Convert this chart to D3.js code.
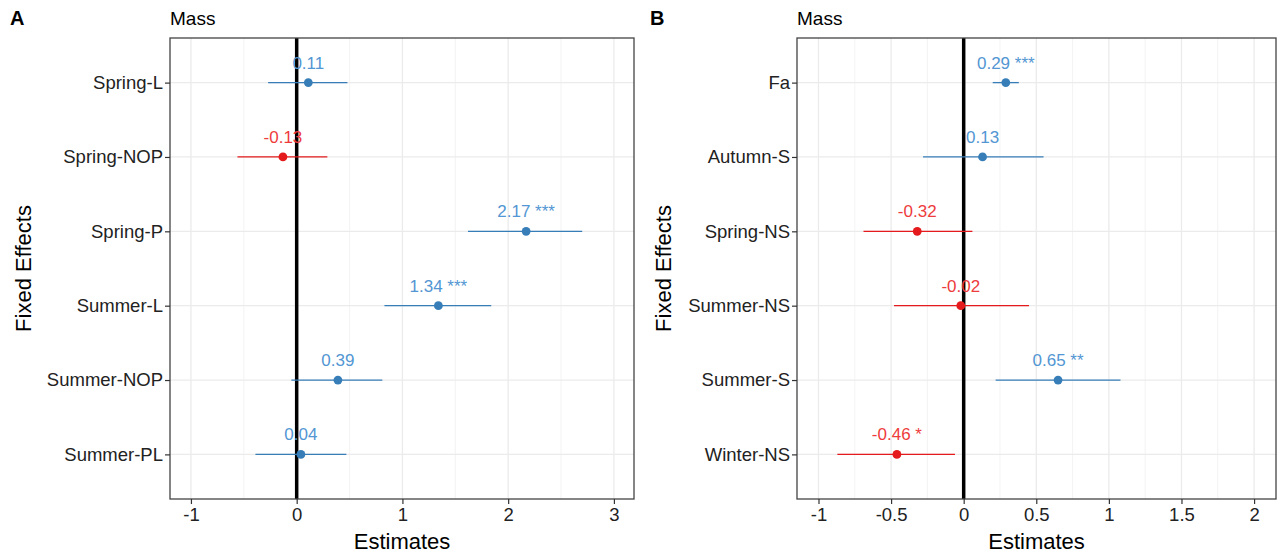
<!DOCTYPE html>
<html>
<head>
<meta charset="utf-8">
<script src="https://cdn.jsdelivr.net/npm/d3@7"></script>
<style>
  body { margin: 0; background: #fff; }
  svg { display: block; font-family: "Liberation Sans", Arial, sans-serif; }
</style>
</head>
<body>
<svg id="chart" width="1281" height="556"></svg>
<script>
// panel A
var termsA = ["Spring-L", "Spring-NOP", "Spring-P", "Summer-L", "Summer-NOP", "Summer-PL"];
var estA = [0.11, -0.13, 2.17, 1.34, 0.39, 0.04];
var lowA = [-0.27, -0.56, 1.62, 0.83, -0.05, -0.39];
var highA = [0.48, 0.29, 2.70, 1.84, 0.81, 0.47];
var starsA = ["", "", "***", "***", "", ""];
var ticksA = [-1, 0, 1, 2, 3];
var minorA = [-0.5, 0.5, 1.5, 2.5];

// panel B
var termsB = ["Fa", "Autumn-S", "Spring-NS", "Summer-NS", "Summer-S", "Winter-NS"];
var estB = [0.29, 0.13, -0.32, -0.02, 0.65, -0.46];
var lowB = [0.20, -0.28, -0.69, -0.48, 0.22, -0.87];
var highB = [0.38, 0.55, 0.06, 0.45, 1.08, -0.06];
var starsB = ["***", "", "", "", "**", "*"];
var ticksB = [-1, -0.5, 0, 0.5, 1, 1.5, 2];
var minorB = [-0.75, -0.25, 0.25, 0.75, 1.25, 1.75];

var svg = d3.select("#chart");

function drawPanel(opt){
	var g = svg.append("g").attr("transform", "translate(" + opt.offset + ",0)");
	var left = opt.left, right = opt.right, top = 38, bottom = 499;

	var x = d3.scaleLinear().domain(opt.domain).range([left, right]);
	var y = d3.scalePoint().domain(opt.terms).range([top, bottom]).padding(0.6);

	// grid
	g.selectAll(".minor").data(opt.minor).enter().append("line")
		.attr("x1", d => x(d)).attr("x2", d => x(d))
		.attr("y1", top).attr("y2", bottom)
		.style("stroke", "#f0f0f0").style("stroke-width", 0.8);
	g.selectAll(".major").data(opt.ticks).enter().append("line")
		.attr("x1", d => x(d)).attr("x2", d => x(d))
		.attr("y1", top).attr("y2", bottom)
		.style("stroke", "#ebebeb").style("stroke-width", 1.3);
	g.selectAll(".hgrid").data(opt.terms).enter().append("line")
		.attr("x1", left).attr("x2", right)
		.attr("y1", d => y(d)).attr("y2", d => y(d))
		.style("stroke", "#ebebeb").style("stroke-width", 1.3);

	// zero line
	g.append("line")
		.attr("x1", x(0)).attr("x2", x(0))
		.attr("y1", top).attr("y2", bottom)
		.style("stroke", "#000").style("stroke-width", 3.5);

	var rows = opt.terms.map(function(t, i){
		return {term: t, est: opt.est[i], low: opt.low[i], high: opt.high[i], stars: opt.stars[i]};
	});
	var lineColor = d => d.est < 0 ? "#e41a1c" : "#377eb8";
	var textColor = d => d.est < 0 ? "#ee3b3c" : "#5296d3";

	g.selectAll(".ci").data(rows).enter().append("line")
		.attr("x1", d => x(d.low)).attr("x2", d => x(d.high))
		.attr("y1", d => y(d.term)).attr("y2", d => y(d.term))
		.style("stroke", lineColor).style("stroke-width", 1.3);
	g.selectAll(".pt").data(rows).enter().append("circle")
		.attr("cx", d => x(d.est)).attr("cy", d => y(d.term))
		.attr("r", 4.4)
		.attr("fill", lineColor);
	g.selectAll(".lbl").data(rows).enter().append("text")
		.attr("x", d => x(d.est)).attr("y", d => y(d.term) - 14)
		.attr("text-anchor", "middle")
		.style("font-size", "17px")
		.attr("fill", textColor)
		.text(d => d.est.toFixed(2) + (d.stars ? " " + d.stars : ""));

	// border
	g.append("rect")
		.attr("x", left).attr("y", top)
		.attr("width", right - left).attr("height", bottom - top)
		.attr("fill", "none").style("stroke", "#444").style("stroke-width", 1.3);

	// axes
	var xAxis = g.append("g").attr("transform", "translate(0," + bottom + ")")
		.call(d3.axisBottom(x).tickValues(opt.ticks).tickSize(5).tickPadding(4).tickFormat(d => String(d)));
	var yAxis = g.append("g").attr("transform", "translate(" + left + ",0)")
		.call(d3.axisLeft(y).tickSize(5).tickPadding(2));
	[xAxis, yAxis].forEach(function(a){
		a.select(".domain").remove();
		a.selectAll(".tick line").style("stroke", "#333").style("stroke-width", 1.2);
		a.selectAll("text").style("font-size", "18.5px").attr("fill", "#222")
			.style("font-family", "'Liberation Sans', Arial, sans-serif");
	});

	// titles
	g.append("text").attr("x", (left + right) / 2).attr("y", 549)
		.attr("text-anchor", "middle").style("font-size", "22px").attr("fill", "#000")
		.text("Estimates");
	g.append("text")
		.attr("transform", "translate(" + opt.yTitleX + "," + ((top + bottom) / 2) + ") rotate(-90)")
		.attr("text-anchor", "middle").style("font-size", "22px").attr("fill", "#000")
		.text("Fixed Effects");
	g.append("text").attr("x", left).attr("y", 25)
		.style("font-size", "19px").attr("fill", "#000")
		.text("Mass");
	g.append("text").attr("x", 10).attr("y", 25)
		.style("font-size", "20px").style("font-weight", "bold").attr("fill", "#000")
		.text(opt.tag);
}

drawPanel({offset: 0, left: 170, right: 634, domain: [-1.198, 3.19],
	terms: termsA, est: estA, low: lowA, high: highA, stars: starsA,
	ticks: ticksA, minor: minorA, yTitleX: 31, tag: "A"});
drawPanel({offset: 640, left: 157, right: 636, domain: [-1.148, 2.151],
	terms: termsB, est: estB, low: lowB, high: highB, stars: starsB,
	ticks: ticksB, minor: minorB, yTitleX: 31, tag: "B"});
</script>
</body>
</html>
